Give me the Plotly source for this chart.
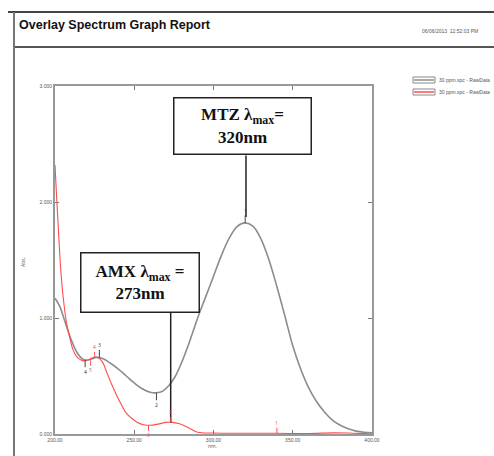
import plotly.graph_objects as go

# ---- data ----
mtz_nm = [200, 203, 206, 210, 214, 218, 222, 226, 230, 235, 240, 245, 250, 255, 260, 264,
          268, 272, 276, 280, 285, 290, 295, 300, 305, 310, 315, 320, 325, 330, 335, 340,
          345, 350, 355, 360, 365, 370, 375, 380, 385, 390, 395, 400]
mtz_abs = [1.17, 1.10, 0.98, 0.82, 0.70, 0.64, 0.64, 0.66, 0.65, 0.61, 0.56, 0.50, 0.44, 0.39, 0.36, 0.355,
           0.37, 0.42, 0.50, 0.62, 0.80, 1.00, 1.18, 1.36, 1.54, 1.69, 1.79, 1.82, 1.79, 1.68, 1.50, 1.27,
           1.02, 0.76, 0.56, 0.40, 0.28, 0.19, 0.12, 0.075, 0.045, 0.025, 0.015, 0.01]

amx_nm = [200, 201, 202, 203, 204, 205, 207, 209, 211, 213, 215, 218, 221, 224, 227, 230,
          233, 236, 239, 242, 245, 248, 252, 256, 260, 265, 270, 274, 278, 282, 286, 290,
          300, 320, 340, 360, 375, 385, 400]
amx_abs = [2.32, 2.05, 1.80, 1.55, 1.35, 1.20, 0.98, 0.85, 0.74, 0.68, 0.65, 0.63, 0.64, 0.66, 0.66, 0.62,
           0.52, 0.42, 0.33, 0.25, 0.18, 0.14, 0.10, 0.08, 0.075, 0.085, 0.10, 0.10, 0.09, 0.07, 0.04, 0.015,
           0.008, 0.006, 0.006, 0.004, 0.01, 0.008, 0.0]

# peak / valley picks: wavelength, absorbance, label, direction (+1 above, -1 below)
mtz_pick_nm = [219, 228, 264, 320]
mtz_pick_abs = [0.64, 0.66, 0.355, 1.82]
mtz_pick_lbl = ["4", "3", "2", "1"]
mtz_pick_dir = [-1, 1, -1, 1]

amx_pick_nm = [220, 225, 259, 273, 340]
amx_pick_abs = [0.635, 0.66, 0.075, 0.10, 0.006]
amx_pick_lbl = ["5", "4", "3", "2", "1"]
amx_pick_dir = [-1, 1, -1, 1, 1]

legend_names = ["30 ppm.spc - RawData", "30 ppm.spc - RawData"]
x_ticks = [200, 250, 300, 350, 400]
y_ticks = [0, 1, 2, 3]

GRAY = "#8c8c8c"
RED = "#ff4d4d"

fig = go.Figure()
fig.add_trace(go.Scatter(x=mtz_nm, y=mtz_abs, mode="lines", line=dict(color=GRAY, width=1.6, shape="spline"),
                         name=legend_names[0], showlegend=False))
fig.add_trace(go.Scatter(x=amx_nm, y=amx_abs, mode="lines", line=dict(color=RED, width=1.1, shape="spline"),
                         name=legend_names[1], showlegend=False))

ann = []
for nm, a, lb, d in zip(mtz_pick_nm, mtz_pick_abs, mtz_pick_lbl, mtz_pick_dir):
    ann.append(dict(x=nm, y=a, xref="x", yref="y", text=lb, showarrow=True, arrowhead=0, arrowwidth=1,
                    arrowcolor="#444", ax=0, ay=-12 * d, font=dict(size=5, color="#333")))
for i, (nm, a, lb, d) in enumerate(zip(amx_pick_nm, amx_pick_abs, amx_pick_lbl, amx_pick_dir)):
    ann.append(dict(x=nm, y=a, xref="x", yref="y", text=lb, showarrow=True, arrowhead=0, arrowwidth=1,
                    arrowcolor=RED, ax=0, ay=-10 * d, xshift=4 if i == 0 else 0,
                    font=dict(size=5, color=RED)))

# callout boxes
box_font = dict(family="Liberation Serif, Times New Roman, serif", size=17, color="#111")
ann.append(dict(x=318, y=2.655, xref="x", yref="y", showarrow=False,
                text="<b>MTZ λ<sub>max</sub>=<br>320nm</b>", font=box_font,
                bgcolor="white", bordercolor="#222", borderwidth=1.5, width=134, height=53))
ann.append(dict(x=253.5, y=1.31, xref="x", yref="y", showarrow=False,
                text="<b>AMX λ<sub>max</sub> =<br>273nm</b>", font=box_font,
                bgcolor="white", bordercolor="#222", borderwidth=1.5, width=115, height=56))

# header texts
def px(xp):
    return (xp - 55) / 317.0
def py(yp):
    return (434 - yp) / 348.0

ann.append(dict(x=px(17), y=py(25), xref="paper", yref="paper", xanchor="left", yanchor="middle",
                showarrow=False, text="<b>Overlay Spectrum Graph Report</b>",
                font=dict(family="Liberation Sans, Arial, sans-serif", size=12.5, color="#111")))
ann.append(dict(x=px(420), y=py(31), xref="paper", yref="paper", xanchor="left", yanchor="middle",
                showarrow=False, text="06/06/2013  12:52:03 PM",
                font=dict(family="Liberation Sans, Arial", size=5, color="#555")))
# axis titles
ann.append(dict(x=px(18), y=py(262), xref="paper", yref="paper", showarrow=False, text="Abs.",
                textangle=-90, font=dict(size=5, color="#555")))
ann.append(dict(x=px(212), y=py(451), xref="paper", yref="paper", showarrow=False, text="nm.",
                font=dict(size=5, color="#555")))
# legend texts
for i, nm in enumerate(legend_names):
    ann.append(dict(x=px(437), y=py(80 + 12 * i), xref="paper", yref="paper", xanchor="left",
                    yanchor="middle", showarrow=False, text=nm,
                    font=dict(family="Liberation Sans, Arial", size=5, color="#555")))

shapes = [
    dict(type="line", xref="paper", yref="paper", x0=px(8), x1=px(494), y0=py(12), y1=py(12),
         line=dict(color="#444", width=2)),
    dict(type="line", xref="paper", yref="paper", x0=px(14), x1=px(494), y0=py(47), y1=py(47),
         line=dict(color="#555", width=2)),
    dict(type="line", xref="paper", yref="paper", x0=px(14), x1=px(14), y0=py(12), y1=py(456),
         line=dict(color="#777", width=2)),
    # callout leader lines
    dict(type="line", xref="x", yref="y", x0=320.5, x1=320.5, y0=mtz_pick_abs[3] + 0.05, y1=2.40,
         line=dict(color="#222", width=1.5)),
    dict(type="line", xref="x", yref="y", x0=273, x1=273, y0=amx_pick_abs[3], y1=1.05,
         line=dict(color="#222", width=1.5)),
]
# legend symbols
for i, c in enumerate([GRAY, RED]):
    yc = 80 + 12 * i
    shapes.append(dict(type="rect", xref="paper", yref="paper", x0=px(413), x1=px(435),
                       y0=py(yc - 3), y1=py(yc + 3), line=dict(color="#888", width=1), fillcolor="white"))
    shapes.append(dict(type="line", xref="paper", yref="paper", x0=px(414), x1=px(434),
                       y0=py(yc), y1=py(yc), line=dict(color=c, width=1.5)))

axis_common = dict(showgrid=False, zeroline=False, showline=True, linecolor="#999", linewidth=2,
                   mirror="allticks", ticks="inside", ticklen=4, tickcolor="#777", tickwidth=1,
                   tickfont=dict(family="Liberation Sans, Arial", size=5, color="#555"))
fig.update_layout(
    width=494, height=456, margin=dict(l=55, r=122, t=86, b=22, pad=0),
    paper_bgcolor="white", plot_bgcolor="white",
    xaxis=dict(range=[200, 400], tickvals=x_ticks, tickformat=".2f", **axis_common),
    yaxis=dict(range=[0, 3], tickvals=y_ticks, tickformat=".3f", **axis_common),
    annotations=ann, shapes=shapes, showlegend=False,
)
fig.write_html("out.html")
